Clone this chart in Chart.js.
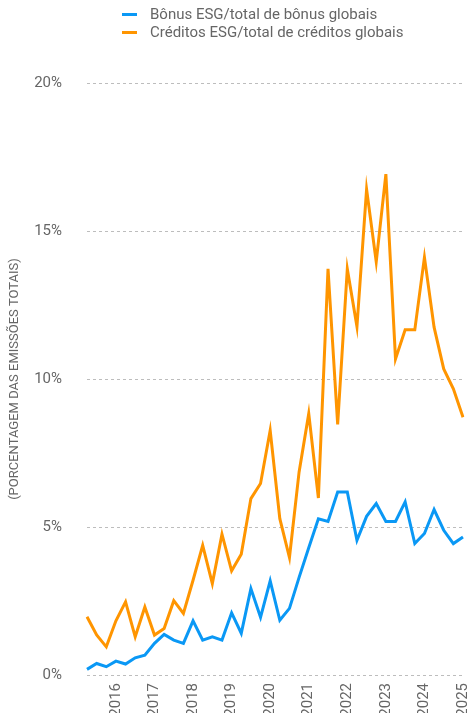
<!DOCTYPE html>
<html>
<head>
<meta charset="utf-8">
<script src="https://cdn.jsdelivr.net/npm/chart.js@4/dist/chart.umd.min.js"></script>
<style>
  html, body { margin: 0; padding: 0; background: #fff; }
  #wrap { position: relative; width: 470px; height: 716px; }
  #legend { position: absolute; left: 122px; top: 5px; font-family: Roboto, "Open Sans", sans-serif; font-size: 15px; color: #666; line-height: 18px; }
  #legend div { display: flex; align-items: center; white-space: nowrap; }
  #legend span.sw { display: inline-block; width: 15px; height: 3px; margin-right: 13px; }
</style>
</head>
<body>
<div id="wrap">
  <canvas id="c" width="470" height="716"></canvas>
  <div id="legend"></div>
</div>
<script>
const categories = [
  '2015-T2','2015-T3','2015-T4',
  '2016-T1','2016-T2','2016-T3','2016-T4',
  '2017-T1','2017-T2','2017-T3','2017-T4',
  '2018-T1','2018-T2','2018-T3','2018-T4',
  '2019-T1','2019-T2','2019-T3','2019-T4',
  '2020-T1','2020-T2','2020-T3','2020-T4',
  '2021-T1','2021-T2','2021-T3','2021-T4',
  '2022-T1','2022-T2','2022-T3','2022-T4',
  '2023-T1','2023-T2','2023-T3','2023-T4',
  '2024-T1','2024-T2','2024-T3','2024-T4',
  '2025-T1'
];
const bonusESG = [
  0.19, 0.39, 0.28,
  0.47, 0.37, 0.58, 0.67,
  1.07, 1.37, 1.18, 1.07,
  1.83, 1.18, 1.29, 1.18,
  2.10, 1.41, 2.92, 1.95,
  3.18, 1.85, 2.25, 3.30,
  4.30, 5.28, 5.19, 6.18,
  6.18, 4.55, 5.36, 5.79,
  5.19, 5.19, 5.85, 4.44,
  4.78, 5.59, 4.89, 4.44,
  4.66
];
const creditosESG = [
  1.97, 1.35, 0.95,
  1.83, 2.47, 1.29, 2.30,
  1.35, 1.57, 2.51, 2.08,
  3.20, 4.38, 3.09, 4.76,
  3.52, 4.08, 5.96, 6.47,
  8.26, 5.28, 3.97, 6.86,
  8.83, 5.98, 13.72, 8.47,
  13.72, 11.77, 16.41, 13.96,
  16.92, 10.68, 11.66, 11.66,
  14.11, 11.75, 10.34, 9.67,
  8.71
];
const yTicks = [0, 5, 10, 15, 20];
const seriesNames = ['Bônus ESG/total de bônus globais', 'Créditos ESG/total de créditos globais'];
const yTitle = '(PORCENTAGEM DAS EMISSÕES TOTAIS)';
const colors = ['#0a98f5', '#ff9500'];

const FONT = 'Roboto, "Open Sans", sans-serif';

const dashedGrid = {
  id: 'dashedGrid',
  beforeDatasetsDraw(chart) {
    const y = chart.scales.y, area = chart.chartArea, ctx = chart.ctx;
    ctx.save();
    ctx.strokeStyle = '#bdbdbd';
    ctx.lineWidth = 1;
    ctx.setLineDash([3, 3]);
    y.ticks.forEach(t => {
      const py = Math.round(y.getPixelForValue(t.value)) + 0.5;
      ctx.beginPath();
      ctx.moveTo(area.left, py);
      ctx.lineTo(area.right, py);
      ctx.stroke();
    });
    ctx.restore();
  }
};

const chart = new Chart(document.getElementById('c'), {
  type: 'line',
  data: {
    labels: categories,
    datasets: [
      { label: seriesNames[0], data: bonusESG, borderColor: colors[0], backgroundColor: colors[0], borderWidth: 3, pointRadius: 0, tension: 0, borderJoinStyle: 'miter' },
      { label: seriesNames[1], data: creditosESG, borderColor: colors[1], backgroundColor: colors[1], borderWidth: 3, pointRadius: 0, tension: 0, borderJoinStyle: 'miter' }
    ]
  },
  plugins: [dashedGrid],
  options: {
    responsive: false,
    animation: false,
    events: [],
    layout: { padding: { top: 83, right: 7, left: 3, bottom: 3 } },
    plugins: { legend: { display: false }, tooltip: { enabled: false } },
    scales: {
      x: {
        type: 'category',
        offset: false,
        grid: { display: false, drawTicks: false },
        border: { display: false },
        afterFit: (s) => { s.paddingLeft = 0; s.paddingRight = 0; s.height = 38; },
        ticks: {
          autoSkip: false,
          maxRotation: 90,
          minRotation: 90,
          padding: 8,
          color: '#666',
          font: { family: FONT, size: 15 },
          callback: function(v, i) {
            const c = categories[i];
            return c.endsWith('T1') ? c.slice(0, 4) : '';
          }
        }
      },
      y: {
        min: 0,
        max: 20,
        afterBuildTicks: (s) => { s.ticks = yTicks.map(v => ({ value: v })); },
        afterFit: (s) => { s.width = 84; },
        grid: { display: false, drawTicks: false },
        border: { display: false },
        ticks: {
          padding: 25,
          color: '#666',
          font: { family: FONT, size: 15 },
          callback: (v) => v + '%'
        },
        title: {
          display: true,
          text: yTitle,
          color: '#666',
          font: { family: FONT, size: 13 },
          padding: { top: 4, bottom: 12 }
        }
      }
    }
  }
});

const lg = document.getElementById('legend');
chart.data.datasets.forEach(ds => {
  const d = document.createElement('div');
  const sw = document.createElement('span');
  sw.className = 'sw';
  sw.style.background = ds.borderColor;
  d.appendChild(sw);
  d.appendChild(document.createTextNode(ds.label));
  lg.appendChild(d);
});
</script>
</body>
</html>
